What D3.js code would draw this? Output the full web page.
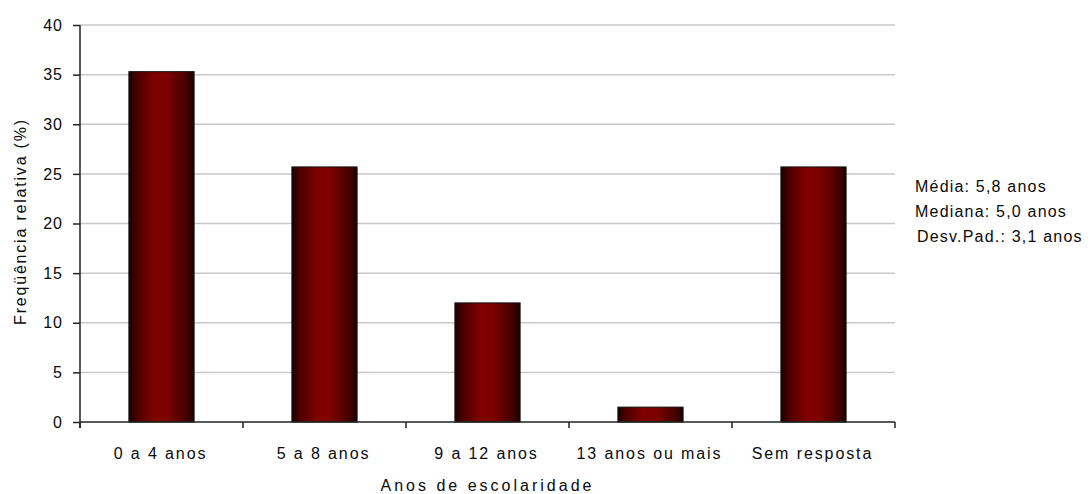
<!DOCTYPE html>
<html>
<head>
<meta charset="utf-8">
<script src="https://cdn.jsdelivr.net/npm/d3@7"></script>
<style>
  html, body { margin: 0; padding: 0; background: #fff; }
  svg text { font-family: "Liberation Sans", Arial, sans-serif; fill: #0a0a0a; }
</style>
</head>
<body>
<svg id="chart" width="1091" height="494"></svg>
<script>
// Schooling distribution (relative frequency, %)
const categories = ["0 a 4 anos", "5 a 8 anos", "9 a 12 anos", "13 anos ou mais", "Sem resposta"];
const values = [35.3, 25.7, 12.0, 1.5, 25.7];
const yTicks = [0, 5, 10, 15, 20, 25, 30, 35, 40];
const summaryLines = ["Média: 5,8 anos", "Mediana: 5,0 anos", "Desv.Pad.: 3,1 anos"];
const xTitle = "Anos de escolaridade";
const yTitle = "Freqüência relativa (%)";

const svg = d3.select("#chart");
const margin = { left: 80, right: 196, top: 25, bottom: 72 };
const W = 1091, H = 494;

const x = d3.scaleBand()
  .domain(categories)
  .range([margin.left, W - margin.right])
  .paddingInner(0.6)
  .paddingOuter(0.3);

const y = d3.scaleLinear()
  .domain([0, 40])
  .range([H - margin.bottom, margin.top]);

// horizontal bar shading
const grad = svg.append("defs").append("linearGradient")
  .attr("id", "barShade").attr("x1", "0%").attr("x2", "100%").attr("y1", "0%").attr("y2", "0%");
[["0%", "#1c0000"], ["12%", "#4a0000"], ["38%", "#800000"], ["58%", "#7e0000"], ["86%", "#4a0000"], ["100%", "#1c0000"]]
  .forEach(([o, c]) => grad.append("stop").attr("offset", o).attr("stop-color", c));

// gridlines
svg.append("g")
  .selectAll("line")
  .data(yTicks.filter(t => t > 0))
  .join("line")
  .attr("x1", margin.left).attr("x2", W - margin.right)
  .attr("y1", d => y(d)).attr("y2", d => y(d))
  .attr("stroke", "#c8c8c8").attr("stroke-width", 1.5);

// bars
svg.append("g")
  .selectAll("rect")
  .data(values)
  .join("rect")
  .attr("x", (d, i) => x(categories[i]))
  .attr("width", x.bandwidth())
  .attr("y", d => y(d))
  .attr("height", d => y(0) - y(d))
  .attr("fill", "url(#barShade)")
  .attr("stroke", "#111").attr("stroke-width", 1);

// y axis
const yAxis = svg.append("g")
  .attr("transform", `translate(${margin.left},0)`)
  .call(d3.axisLeft(y).tickValues(yTicks).tickSize(7).tickPadding(10).tickFormat(d3.format("d")));
yAxis.select(".domain").attr("stroke", "#222").attr("stroke-width", 1.5).attr("d", `M0,${y(40)}V${y(0) + 6}`);
yAxis.selectAll(".tick line").attr("stroke", "#222").attr("stroke-width", 1.5);
yAxis.selectAll(".tick text")
  .style("font-family", "'Liberation Sans', Arial, sans-serif")
  .style("font-size", "16px").style("letter-spacing", "1px").attr("fill", "#0a0a0a");

// x axis: ticks sit on the category boundaries
const step = x.step();
const bounds = d3.range(categories.length + 1).map(i => margin.left + i * step);
const xg = svg.append("g");
xg.append("line")
  .attr("x1", margin.left).attr("x2", W - margin.right)
  .attr("y1", y(0)).attr("y2", y(0))
  .attr("stroke", "#222").attr("stroke-width", 1.5);
xg.selectAll("line.tk")
  .data(bounds)
  .join("line").attr("class", "tk")
  .attr("x1", d => d).attr("x2", d => d)
  .attr("y1", y(0)).attr("y2", y(0) + 6)
  .attr("stroke", "#222").attr("stroke-width", 1.5);
xg.selectAll("text")
  .data(categories)
  .join("text")
  .attr("x", d => x(d) + x.bandwidth() / 2 - 1)
  .attr("y", y(0) + 37)
  .attr("text-anchor", "middle")
  .style("font-size", "16px").style("letter-spacing", "1.9px")
  .text(d => d);

// axis titles
svg.append("text")
  .attr("x", (margin.left + W - margin.right) / 2)
  .attr("y", H - 3)
  .attr("text-anchor", "middle")
  .style("font-size", "16px").style("letter-spacing", "3px")
  .text(xTitle);

svg.append("text")
  .attr("transform", `translate(26,${(y(0) + y(40)) / 2 - 2}) rotate(-90)`)
  .attr("text-anchor", "middle")
  .style("font-size", "16px").style("letter-spacing", "1.8px")
  .text(yTitle);

// summary statistics
svg.append("g")
  .selectAll("text")
  .data(summaryLines)
  .join("text")
  .attr("x", (d, i) => i === 2 ? 917 : 915)
  .attr("y", (d, i) => 192 + i * 25)
  .style("font-size", "16px").style("letter-spacing", "1.2px")
  .text(d => d);
</script>
</body>
</html>
